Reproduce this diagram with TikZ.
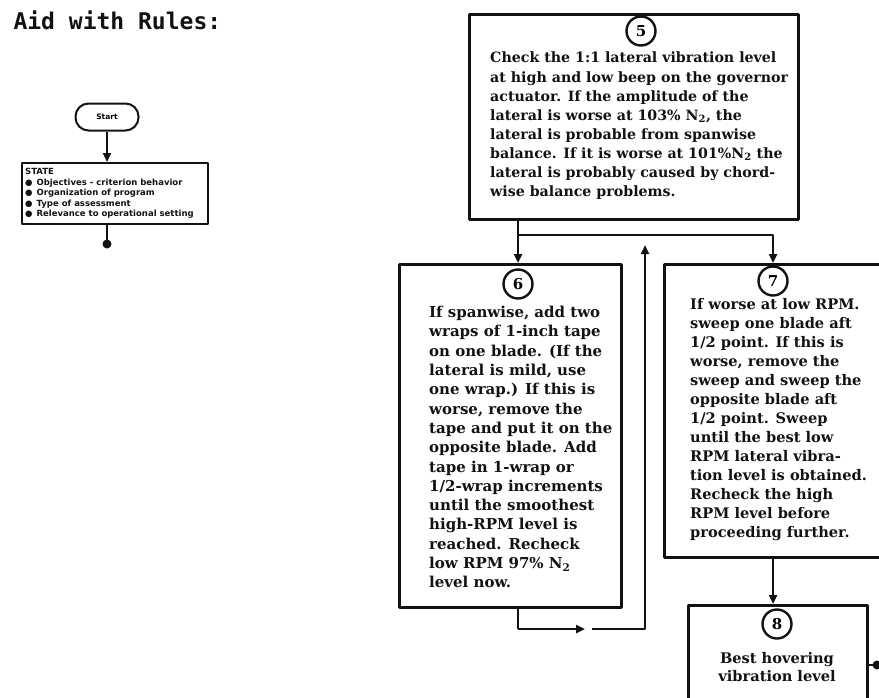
\documentclass[tikz,border=0pt]{standalone}
\usepackage{fontspec}
\setmainfont{DejaVu Serif}
\newfontfamily\titlefont{DejaVu Sans Mono}
\newfontfamily\statefont{DejaVu Sans}
\usepackage{xcolor}
\usepackage{tikz}
\usetikzlibrary{arrows.meta, positioning}
\definecolor{inkblack}{RGB}{18, 18, 18}

\begin{document}
\begin{tikzpicture}[x=1pt, y=-1pt, line join=round,
    stepbox/.style={draw=inkblack, line width=2.6pt, anchor=north west, inner sep=0pt},
    numcirc/.style={circle, draw=inkblack, line width=2.4pt, minimum size=29pt,
                    inner sep=0pt, font=\bfseries\fontsize{15}{15}\selectfont},
    steptext/.style={anchor=north west, align=left, inner sep=0pt, text=inkblack,
                     font=\bfseries\fontsize{14.6}{#1}\selectfont},
    flow/.style={draw=inkblack, line width=2.4pt, -{Triangle[length=9pt, width=8pt]}},
    wire/.style={draw=inkblack, line width=2.4pt}
]
    \useasboundingbox (0,0) rectangle (879,697);
    \clip (0,0) rectangle (879,697);

    % left part
    \node[anchor=west, text=inkblack, font=\titlefont\bfseries\fontsize{23}{23}\selectfont] (title) at (10,20) {Aid with Rules:};
    \node[draw=inkblack, line width=2pt, rounded corners=13pt, minimum width=63pt, minimum height=27pt,
          font=\statefont\bfseries\fontsize{7.5}{7.5}\selectfont] (start) at (107,117) {Start};
    \node[stepbox, line width=2pt, minimum width=186pt, minimum height=61pt] (state) at (21,162) {};
    \node[anchor=north west, align=left, inner sep=0pt, text=inkblack,
          font=\statefont\bfseries\fontsize{8.5}{10.6}\selectfont] (statelist) at (25,168)
        {STATE\\
         ●\hspace{4pt}Objectives - criterion behavior\\
         ●\hspace{4pt}Organization of program\\
         ●\hspace{4pt}Type of assessment\\
         ●\hspace{4pt}Relevance to operational setting};
    \coordinate (stateend) at (107,244);
    \draw[flow] (start) -- (start |- state.north);
    \draw[wire] (stateend |- state.south) -- (stateend);
    \fill[inkblack] (stateend) circle (4.5pt);

    % step 5
    \node[stepbox, minimum width=329pt, minimum height=205pt] (five) at (468,13) {};
    \node[numcirc] (c5) at (641,31) {5};
    \node[steptext=19.1, font=\bfseries\fontsize{14.2}{19.1}\selectfont] (t5) at (490,52)
        {Check the 1:1 lateral vibration level\\
         at high and low beep on the governor\\
         actuator. If the amplitude of the\\
         lateral is worse at 103\% N$_{\mathbf 2}$, the\\
         lateral is probable from spanwise\\
         balance. If it is worse at 101\%N$_{\mathbf 2}$ the\\
         lateral is probably caused by chord-\\
         wise balance problems.};

    % step 6
    \node[stepbox, minimum width=222pt, minimum height=343pt] (six) at (398,263) {};
    \node[numcirc] (c6) at (518,284) {6};
    \node[steptext=19.3, font=\bfseries\fontsize{15}{19.3}\selectfont] (t6) at (429,306)
        {If spanwise, add two\\
         wraps of 1-inch tape\\
         on one blade. (If the\\
         lateral is mild, use\\
         one wrap.) If this is\\
         worse, remove the\\
         tape and put it on the\\
         opposite blade. Add\\
         tape in 1-wrap or\\
         1/2-wrap increments\\
         until the smoothest\\
         high-RPM level is\\
         reached. Recheck\\
         low RPM 97\% N$_{\mathbf 2}$\\
         level now.};

    % step 7
    \node[stepbox, minimum width=240pt, minimum height=293pt] (seven) at (663,263) {};
    \node[numcirc] (c7) at (773,281) {7};
    \node[steptext=19] (t7) at (690,298)
        {If worse at low RPM.\\
         sweep one blade aft\\
         1/2 point. If this is\\
         worse, remove the\\
         sweep and sweep the\\
         opposite blade aft\\
         1/2 point. Sweep\\
         until the best low\\
         RPM lateral vibra-\\
         tion level is obtained.\\
         Recheck the high\\
         RPM level before\\
         proceeding further.};

    % step 8
    \node[stepbox, minimum width=179pt, minimum height=130pt] (eight) at (687,604) {};
    \node[numcirc] (c8) at (777,624) {8};
    \node[steptext=18, anchor=north, align=center] (t8) at (777,652)
        {Best hovering\\vibration level};

    % connectors
    \coordinate (junc) at (518,235);
    \coordinate (loopleft) at (518,629);
    \coordinate (looptip) at (585,629);
    \coordinate (loopgap) at (592,629);
    \coordinate (loopright) at (645,629);
    \coordinate (looptop) at (645,245);
    \coordinate (hoverend) at (877,665);
    \draw[flow] (c6 |- five.south) -- (c6 |- six.north);
    \draw[flow] (junc) -| (c7 |- seven.north);
    \draw[wire] (c6 |- six.south) -- (loopleft);
    \draw[flow] (loopleft) -- (looptip);
    \draw[flow] (loopgap) -- (loopright) -- (looptop);
    \draw[flow] (c7 |- seven.south) -- (c7 |- eight.north);
    \draw[wire] (eight.east |- hoverend) -- (hoverend);
    \fill[inkblack] (hoverend) circle (4.5pt);
\end{tikzpicture}
\end{document}
